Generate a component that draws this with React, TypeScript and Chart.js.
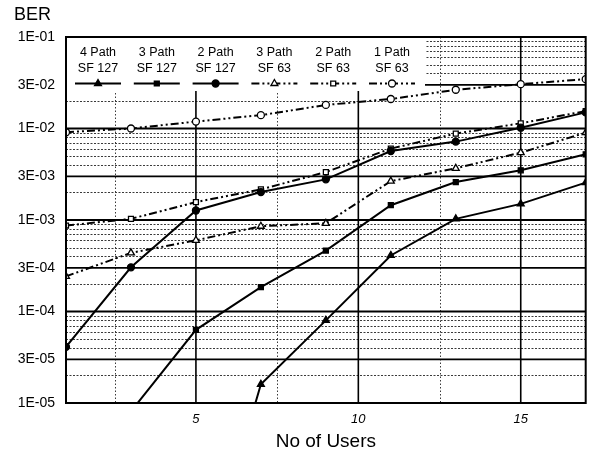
import React, { useEffect, useRef } from 'react';
import { Chart, registerables } from 'chart.js';

Chart.register(...registerables);

// ---------------- data ----------------
const users = [1, 3, 5, 7, 9, 11, 13, 15, 17];

const legendLine1 = ['4 Path', '3 Path', '2 Path', '3 Path', '2 Path', '1 Path'];
const legendLine2 = ['SF 127', 'SF 127', 'SF 127', 'SF 63', 'SF 63', 'SF 63'];

const ber4PathSF127 = [null, null, 6e-8, 1.6e-5, 8.0e-5, 4.1e-4, 1.03e-3, 1.5e-3, 2.56e-3];
const ber3PathSF127 = [null, 8.1e-6, 6.3e-5, 1.85e-4, 4.63e-4, 1.45e-3, 2.6e-3, 3.49e-3, 5.22e-3];
const ber2PathSF127 = [4.1e-5, 3.04e-4, 1.27e-3, 2.02e-3, 2.78e-3, 5.68e-3, 7.19e-3, 1.02e-2, 1.5e-2];
const ber3PathSF63 = [2.42e-4, 4.37e-4, 6.0e-4, 8.55e-4, 9.2e-4, 2.66e-3, 3.67e-3, 5.45e-3, 9.0e-3];
const ber2PathSF63 = [8.7e-4, 1.03e-3, 1.57e-3, 2.16e-3, 3.34e-3, 6.03e-3, 8.8e-3, 1.14e-2, 1.55e-2];
const ber1PathSF63 = [9.1e-3, 1.0e-2, 1.19e-2, 1.4e-2, 1.81e-2, 2.1e-2, 2.65e-2, 3.05e-2, 3.46e-2];

const seriesValues = [ber4PathSF127, ber3PathSF127, ber2PathSF127, ber3PathSF63, ber2PathSF63, ber1PathSF63];

const yTickValues = [1e-5, 3e-5, 1e-4, 3e-4, 1e-3, 3e-3, 1e-2, 3e-2, 1e-1];
const yTickLabels = ['1E-05', '3E-05', '1E-04', '3E-04', '1E-03', '3E-03', '1E-02', '3E-02', '1E-01'];
const yDecades = [1e-5, 1e-4, 1e-3, 1e-2];
const yMinorMantissas = [2, 4, 5, 6, 7, 8, 9];
const xTickValues = [5, 10, 15];
const xMinorValues = [2.5, 7.5, 12.5];
const yAxisTitle = 'BER';
const xAxisTitle = 'No of Users';

// ---------------- styles ----------------
const FONT = '"Liberation Sans", Arial, sans-serif';
const pointStyles = ['triangle', 'rect', 'circle', 'triangle', 'rect', 'circle'];
const pointRadii = [4, 3.5, 3.5, 4, 3.5, 3.5];
const filled = [true, true, true, false, false, false];
const DASH_DOT_DOT = [8, 3, 2, 3, 2, 3];
const dashes = [[], [], [], DASH_DOT_DOT, DASH_DOT_DOT, DASH_DOT_DOT];

function drawMarker(ctx: CanvasRenderingContext2D, style: string, x: number, y: number, r: number, fill: boolean) {
  ctx.save();
  ctx.setLineDash([]);
  ctx.lineWidth = 1.3;
  ctx.strokeStyle = '#000';
  ctx.fillStyle = fill ? '#000' : '#fff';
  ctx.beginPath();
  if (style === 'circle') {
    ctx.arc(x, y, r, 0, Math.PI * 2);
  } else if (style === 'rect') {
    const s = r * Math.SQRT1_2;
    ctx.rect(x - s, y - s, 2 * s, 2 * s);
  } else {
    const h = r * 1.5;
    const side = (r * 3) / Math.sqrt(3);
    ctx.moveTo(x - side / 2, y + h / 3 * 1);
    ctx.lineTo(x + side / 2, y + h / 3 * 1);
    ctx.lineTo(x, y - (h * 2) / 3);
    ctx.closePath();
  }
  ctx.fill();
  ctx.stroke();
  ctx.restore();
}

const paperPlugin = {
  id: 'paperGrid',
  beforeDatasetsDraw(chart: any) {
    const { ctx, chartArea: a, scales } = chart;
    const x = scales.x;
    const y = scales.y;
    ctx.save();
    ctx.beginPath();
    ctx.rect(a.left, a.top, a.right - a.left, a.bottom - a.top);
    ctx.clip();

    // minor dotted horizontal lines
    ctx.strokeStyle = '#3a3a3a';
    ctx.lineWidth = 1;
    ctx.setLineDash([2, 1.5]);
    for (const d of yDecades) {
      for (const m of yMinorMantissas) {
        const py = Math.round(y.getPixelForValue(d * m)) + 0.5;
        ctx.beginPath();
        ctx.moveTo(a.left, py);
        ctx.lineTo(a.right, py);
        ctx.stroke();
      }
    }
    // minor dotted vertical lines
    ctx.setLineDash([1.5, 2]);
    for (const v of xMinorValues) {
      const px = Math.round(x.getPixelForValue(v)) + 0.5;
      ctx.beginPath();
      ctx.moveTo(px, a.top);
      ctx.lineTo(px, a.bottom);
      ctx.stroke();
    }
    // major solid lines
    ctx.setLineDash([]);
    ctx.strokeStyle = '#000';
    ctx.lineWidth = 1.8;
    for (const v of yTickValues) {
      const py = y.getPixelForValue(v);
      ctx.beginPath();
      ctx.moveTo(a.left, py);
      ctx.lineTo(a.right, py);
      ctx.stroke();
    }
    ctx.lineWidth = 1.6;
    for (const v of xTickValues) {
      const px = x.getPixelForValue(v);
      ctx.beginPath();
      ctx.moveTo(px, a.top);
      ctx.lineTo(px, a.bottom);
      ctx.stroke();
    }
    // white legend box
    ctx.fillStyle = '#fff';
    ctx.fillRect(a.left, a.top, 425 - a.left, 91 - a.top);
    ctx.restore();
  },
  afterDatasetsDraw(chart: any) {
    const { ctx, chartArea: a } = chart;
    ctx.save();
    // frame
    ctx.strokeStyle = '#000';
    ctx.lineWidth = 2;
    ctx.setLineDash([]);
    ctx.strokeRect(a.left, a.top, a.right - a.left, a.bottom - a.top);

    // legend
    ctx.fillStyle = '#000';
    ctx.font = `12.5px ${FONT}`;
    ctx.textAlign = 'center';
    ctx.textBaseline = 'middle';
    legendLine1.forEach((t, i) => {
      const cx = 98 + i * 58.8;
      ctx.fillText(t, cx, 52.5);
      ctx.fillText(legendLine2[i], cx, 68.5);
      ctx.save();
      ctx.strokeStyle = '#000';
      ctx.lineWidth = 2;
      ctx.setLineDash(dashes[i]);
      ctx.beginPath();
      ctx.moveTo(cx - 23, 83.5);
      ctx.lineTo(cx + 23, 83.5);
      ctx.stroke();
      ctx.restore();
      drawMarker(ctx, pointStyles[i], cx, 83.5, pointRadii[i], filled[i]);
    });
    ctx.restore();
  },
  afterDraw(chart: any) {
    const { ctx } = chart;
    ctx.save();
    ctx.fillStyle = '#000';
    ctx.font = `18px ${FONT}`;
    ctx.textAlign = 'left';
    ctx.textBaseline = 'middle';
    ctx.fillText(yAxisTitle, 14, 15);
    ctx.restore();
  },
};

export default function App() {
  const canvasRef = useRef<HTMLCanvasElement | null>(null);

  useEffect(() => {
    document.body.style.margin = '0';
    const canvas = canvasRef.current;
    if (!canvas) return;

    const datasets = seriesValues.map((vals, i) => ({
      label: `${legendLine1[i]} ${legendLine2[i]}`,
      data: users.map((u, j) => ({ x: u, y: vals[j] })),
      borderColor: '#000',
      borderWidth: 2,
      borderDash: dashes[i],
      pointStyle: pointStyles[i],
      pointRadius: pointRadii[i],
      pointBorderWidth: 1.3,
      pointBorderColor: '#000',
      pointBackgroundColor: filled[i] ? '#000' : '#fff',
      fill: false,
      tension: 0,
      spanGaps: false,
      clip: 0,
    }));

    const chart = new Chart(canvas, {
      type: 'line',
      data: { datasets: datasets as any },
      plugins: [paperPlugin],
      options: {
        animation: false,
        responsive: false,
        devicePixelRatio: 1,
        layout: { padding: { left: 0, top: 37, right: 5, bottom: 0 } },
        plugins: { legend: { display: false }, tooltip: { enabled: false }, title: { display: false } },
        scales: {
          x: {
            type: 'linear',
            min: 1,
            max: 17,
            grid: { display: false, drawTicks: false, tickLength: 0 },
            border: { display: false },
            afterBuildTicks: (scale: any) => {
              scale.ticks = xTickValues.map((v) => ({ value: v }));
            },
            afterFit: (scale: any) => {
              scale.height = 53;
            },
            ticks: {
              padding: 9,
              color: '#000',
              font: { family: FONT, size: 13, style: 'italic' },
              maxRotation: 0,
              autoSkip: false,
            },
            title: {
              display: true,
              text: xAxisTitle,
              color: '#000',
              font: { family: FONT, size: 19 },
              padding: { top: 0, bottom: 3 },
            },
          },
          y: {
            type: 'logarithmic',
            min: 1e-5,
            max: 1e-1,
            grid: { display: false, drawTicks: false, tickLength: 0 },
            border: { display: false },
            afterBuildTicks: (scale: any) => {
              scale.ticks = yTickValues.map((v) => ({ value: v }));
            },
            afterFit: (scale: any) => {
              scale.width = 66;
            },
            ticks: {
              padding: 11,
              color: '#000',
              font: { family: FONT, size: 14 },
              autoSkip: false,
              callback: (v: any) => {
                const idx = yTickValues.findIndex((t) => Math.abs(t - Number(v)) / t < 1e-6);
                return idx >= 0 ? yTickLabels[idx] : '';
              },
            },
          },
        },
      },
    } as any);

    return () => chart.destroy();
  }, []);

  return (
    <div style={{ width: 591, height: 456, background: '#fff' }}>
      <canvas ref={canvasRef} width={591} height={456} style={{ display: 'block', width: 591, height: 456 }} />
    </div>
  );
}
